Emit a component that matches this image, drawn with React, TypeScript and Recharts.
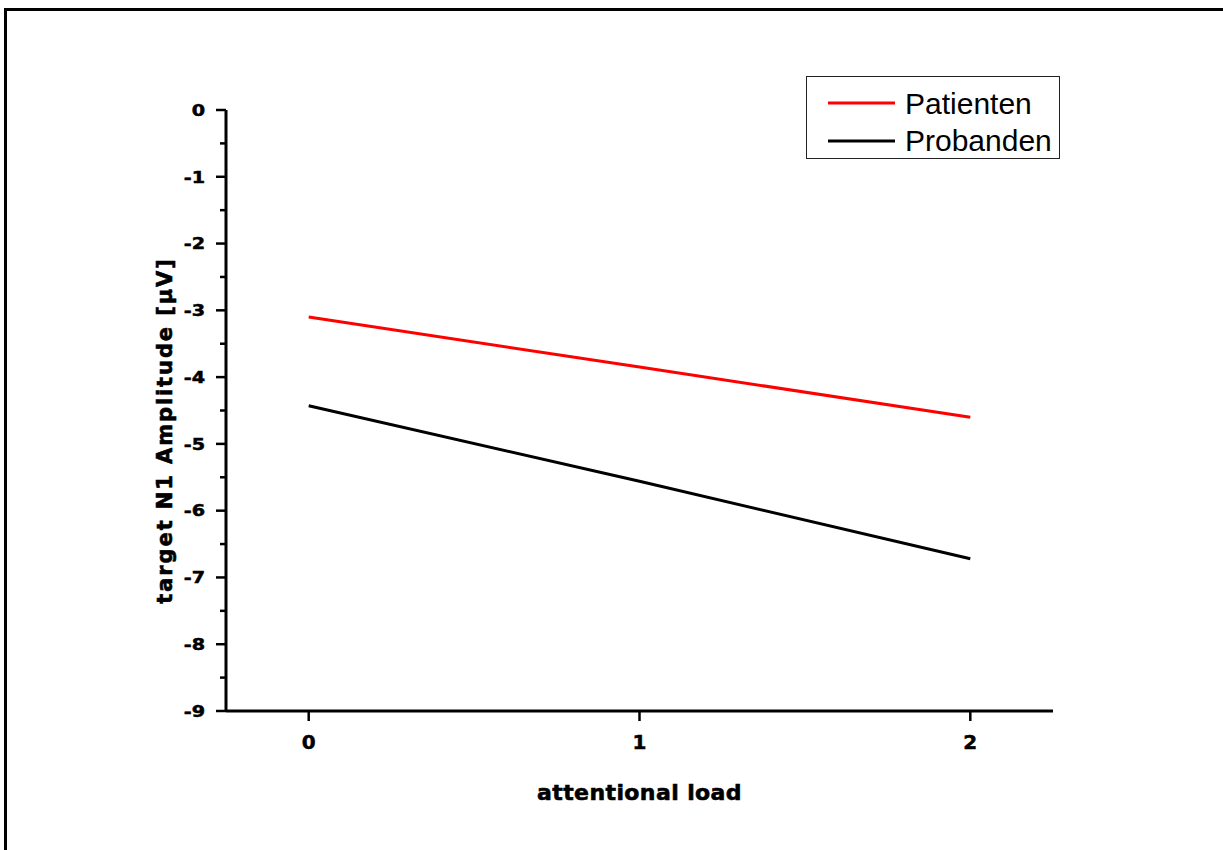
import React from 'react';
import { LineChart, Line, XAxis, YAxis, Legend } from 'recharts';

const loads = [0, 1, 2];
const patienten = [-3.1, -3.85, -4.6];
const probanden = [-4.43, -5.56, -6.72];
const yTicks = [-9, -8.5, -8, -7.5, -7, -6.5, -6, -5.5, -5, -4.5, -4, -3.5, -3, -2.5, -2, -1.5, -1, -0.5, 0];
const xTicks = [0, 1, 2];
const seriesNames = ['Patienten', 'Probanden'];
const seriesColors = ['#ff0000', '#000000'];

const data = loads.map((l, i) => ({ load: l, Patienten: patienten[i], Probanden: probanden[i] }));

const TS = 10;
const TM = 12;
const BOLD = '"DejaVu Sans", sans-serif';

const YTick = (props: any) => {
  const { x, y, payload } = props;
  const v = payload.value;
  const major = Number.isInteger(v);
  const ax = x + TS + TM;
  return (
    <g>
      <line x1={ax - (major ? 10 : 6)} x2={ax} y1={y} y2={y} stroke="#000" strokeWidth={2.5} />
      {major && (
        <text
          transform={`translate(${x + 1},${y}) scale(1.2,1)`}
          textAnchor="end"
          dy="0.36em"
          fontFamily={BOLD}
          fontWeight="bold"
          fontSize={16}
          stroke="#000"
          strokeWidth={0.5}
          fill="#000"
        >
          {String(v)}
        </text>
      )}
    </g>
  );
};

const XTick = (props: any) => {
  const { x, y, payload } = props;
  return (
    <text
      x={x}
      y={y}
      dy="0.72em"
      textAnchor="middle"
      fontFamily={BOLD}
      fontWeight="bold"
      fontSize={20}
      stroke="#000"
      strokeWidth={0.5}
      fill="#000"
    >
      {String(payload.value)}
    </text>
  );
};

const LegendBox = (props: any) => {
  const payload = props.payload || [];
  const items = seriesNames.map((n, i) => {
    const p = payload.find((e: any) => e.value === n);
    return { name: n, color: p ? p.color : seriesColors[i] };
  });
  return (
    <svg width={254} height={83} style={{ display: 'block' }}>
      <rect x={0.5} y={0.5} width={253} height={82} fill="#fff" stroke="#222" strokeWidth={1} />
      {items.map((it, i) => (
        <g key={it.name}>
          <line x1={22} x2={89} y1={27 + i * 38} y2={27 + i * 38} stroke={it.color} strokeWidth={3} />
          <text x={99} y={38 + i * 37} fontFamily='"Liberation Sans", Arial, sans-serif' fontSize={30} fill="#000">
            {it.name}
          </text>
        </g>
      ))}
    </svg>
  );
};

export default function App() {
  return (
    <div style={{ position: 'absolute', left: 0, top: 0, width: 1223, height: 850, overflow: 'hidden', background: '#fff' }}>
      <div
        style={{
          position: 'absolute',
          left: 4,
          top: 7.5,
          width: 1300,
          height: 900,
          borderTop: '3px solid #000',
          borderLeft: '3px solid #000',
        }}
      />
      <LineChart
        width={1223}
        height={850}
        data={data}
        margin={{ top: 110, right: 170, bottom: 79, left: 146 }}
        style={{ position: 'absolute', left: 0, top: 0 }}
      >
        <XAxis
          dataKey="load"
          type="number"
          domain={[-0.25, 2.25]}
          ticks={xTicks}
          height={60}
          tickSize={10}
          tickMargin={14}
          axisLine={{ stroke: '#000', strokeWidth: 3 }}
          tickLine={{ stroke: '#000', strokeWidth: 2.5 }}
          tick={<XTick />}
          interval={0}
          label={{
            content: (p: any) => {
              const vb = p.viewBox || {};
              return (
                <text
                  x={vb.x + vb.width / 2}
                  y={800}
                  textAnchor="middle"
                  fontFamily={BOLD}
                  fontWeight="bold"
                  fontSize={22}
                  letterSpacing={0.4}
                  stroke="#000"
                  strokeWidth={0.6}
                  fill="#000"
                >
                  attentional load
                </text>
              );
            },
          }}
        />
        <YAxis
          type="number"
          domain={[-9, 0]}
          ticks={yTicks}
          width={80}
          interval={0}
          tickSize={TS}
          tickMargin={TM}
          axisLine={{ stroke: '#000', strokeWidth: 3 }}
          tickLine={false}
          tick={<YTick />}
          label={{
            content: (p: any) => {
              const vb = p.viewBox || {};
              return (
                <text
                  transform={`translate(172, ${vb.y + vb.height / 2 + 20}) rotate(-90)`}
                  textAnchor="middle"
                  fontFamily={BOLD}
                  fontWeight="bold"
                  fontSize={21}
                  letterSpacing={1.9}
                  stroke="#000"
                  strokeWidth={0.6}
                  fill="#000"
                >
                  target N1 Amplitude [µV]
                </text>
              );
            },
          }}
        />
        <Legend
          layout="horizontal"
          verticalAlign="middle"
          align="center"
          content={<LegendBox />}
          wrapperStyle={{ position: 'absolute', left: 806, top: 76, width: 254, height: 83, margin: 0 }}
        />
        {seriesNames.map((n, i) => (
          <Line
            key={n}
            type="linear"
            dataKey={n}
            name={n}
            stroke={seriesColors[i]}
            strokeWidth={3}
            dot={false}
            activeDot={false}
            isAnimationActive={false}
          />
        ))}
      </LineChart>
    </div>
  );
}
